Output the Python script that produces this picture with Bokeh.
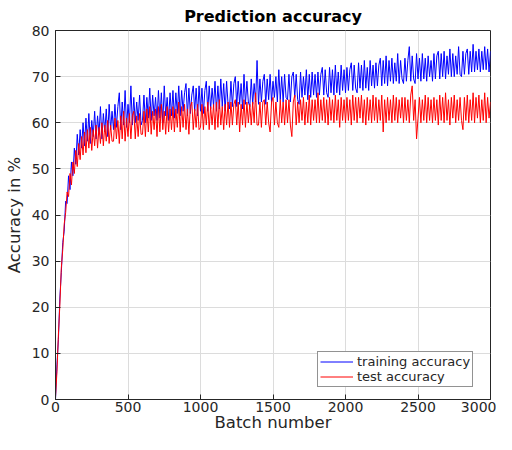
from bokeh.plotting import figure
from bokeh.models import Range1d, FixedTicker, Legend, LegendItem
from bokeh.embed import file_html
from bokeh.resources import INLINE

batch = list(range(0, 3001, 10))

train_acc = [
    0.0, 7.5, 13.0, 22.0, 27.5, 34.0, 36.5, 43.0, 42.5, 48.5, 45.5, 51.5, 48.5, 54.5, 51.0, 57.5, 53.0, 58.5, 54.5, 60.0,
    55.0, 61.0, 56.0, 62.0, 55.5, 60.5, 57.0, 62.5, 56.5, 61.5, 57.5, 63.5, 56.5, 62.0, 58.0, 63.0, 57.0, 64.0, 58.5, 62.5,
    58.5, 64.0, 59.0, 63.5, 66.5, 58.5, 64.5, 59.5, 67.0, 59.0, 64.0, 60.0, 68.0, 59.5, 65.5, 60.0, 64.5, 60.5, 66.0, 59.5,
    60.5, 66.0, 60.0, 65.5, 61.0, 67.5, 60.5, 66.0, 61.5, 65.5, 60.5, 67.0, 61.0, 66.5, 60.0, 68.0, 61.5, 65.5, 60.5, 66.5,
    61.5, 67.0, 61.0, 66.5, 62.0, 68.0, 61.5, 67.0, 62.5, 66.5, 68.5, 61.5, 67.5, 62.0, 66.0, 68.0, 62.5, 67.5, 61.5, 68.0,
    62.5, 67.5, 62.0, 67.0, 69.0, 62.5, 68.0, 63.0, 67.5, 63.5, 69.0, 62.5, 68.0, 63.0, 69.5, 63.5, 68.5, 62.5, 69.0, 64.0,
    63.0, 69.0, 63.5, 68.5, 70.0, 63.5, 69.0, 64.0, 68.5, 63.0, 70.5, 64.0, 69.0, 64.5, 63.5, 69.5, 64.0, 68.5, 64.5, 73.5,
    64.0, 69.5, 64.5, 69.0, 70.5, 64.0, 69.5, 65.0, 70.5, 64.5, 69.0, 65.5, 70.0, 64.5, 71.5, 65.0, 70.0, 64.5, 70.5, 65.5,
    65.0, 70.5, 64.5, 70.0, 71.0, 65.5, 70.5, 65.0, 64.0, 71.0, 65.5, 70.0, 66.0, 71.5, 65.0, 70.5, 65.5, 71.0, 66.0, 70.5,
    65.5, 71.0, 66.0, 70.5, 72.0, 66.0, 71.5, 66.5, 65.5, 72.0, 66.5, 71.5, 66.0, 72.5, 66.5, 71.0, 66.0, 72.5, 67.0, 71.5,
    66.5, 72.0, 67.0, 71.5, 73.0, 67.0, 72.5, 67.5, 66.5, 73.0, 67.5, 72.5, 67.0, 73.5, 67.5, 72.0, 67.0, 73.5, 68.0, 72.5,
    67.5, 73.0, 68.0, 72.5, 74.0, 68.0, 73.5, 68.5, 74.5, 68.0, 73.5, 69.0, 74.0, 68.5, 73.0, 69.0, 75.0, 68.5, 73.5, 69.5,
    68.5, 74.0, 69.0, 73.5, 76.5, 69.0, 74.5, 69.5, 68.5, 75.0, 69.5, 74.0, 69.0, 75.0, 69.5, 74.0, 69.0, 74.5, 70.0, 73.5,
    69.0, 75.0, 69.5, 74.5, 75.5, 69.5, 75.0, 70.0, 75.5, 69.5, 74.5, 70.5, 76.0, 70.0, 75.0, 70.0, 74.5, 70.5, 76.5, 70.5,
    70.0, 75.5, 70.5, 75.0, 76.0, 70.5, 75.5, 71.0, 77.0, 71.0, 75.5, 71.5, 76.0, 71.0, 75.5, 71.5, 76.5, 71.5, 76.0, 71.0, 75.5,
]

test_acc = [
    0.5, 6.0, 14.0, 20.5, 28.5, 32.5, 38.0, 40.5, 45.0, 44.0, 49.0, 46.5, 51.5, 49.0, 54.0, 50.5, 55.5, 52.0, 57.0, 53.0,
    58.0, 53.5, 58.5, 54.5, 59.0, 54.0, 58.5, 55.0, 59.5, 54.5, 59.0, 55.5, 60.0, 55.0, 59.5, 56.0, 60.5, 55.5, 59.5, 56.0,
    56.0, 61.0, 56.5, 60.5, 55.5, 61.5, 56.5, 62.5, 56.0, 61.0, 57.0, 62.0, 56.5, 61.5, 62.5, 56.5, 61.5, 57.0, 62.0, 57.5,
    57.5, 62.5, 57.0, 63.0, 58.0, 63.5, 57.5, 62.5, 58.5, 63.0, 57.0, 63.5, 58.0, 64.0, 58.5, 62.5, 57.5, 63.5, 58.0, 63.0,
    58.5, 63.5, 58.0, 63.0, 59.0, 64.5, 58.0, 63.5, 59.0, 64.0, 58.5, 63.0, 57.5, 63.5, 64.5, 58.5, 63.0, 59.0, 64.0, 58.5,
    59.0, 64.0, 58.5, 63.5, 59.5, 64.5, 58.5, 63.5, 59.5, 64.0, 58.5, 64.5, 59.0, 65.0, 59.5, 63.5, 58.5, 64.0, 59.5, 64.5,
    59.0, 64.5, 59.5, 64.0, 65.0, 59.5, 64.5, 58.0, 64.0, 59.5, 65.0, 59.0, 64.5, 60.0, 64.0, 59.5, 64.5, 60.0, 66.5, 59.5,
    59.5, 64.5, 59.0, 64.5, 65.0, 59.5, 64.5, 60.0, 58.0, 64.5, 65.5, 59.5, 64.5, 60.0, 59.0, 65.0, 60.0, 64.5, 59.5, 65.0,
    60.0, 65.0, 59.5, 57.0, 64.5, 66.0, 59.5, 64.5, 60.0, 65.0, 60.5, 65.5, 59.5, 64.5, 60.0, 66.0, 59.5, 65.0, 60.5, 65.0,
    60.0, 66.5, 60.0, 65.0, 60.5, 65.5, 60.0, 65.0, 59.5, 65.5, 60.5, 65.0, 60.0, 66.0, 60.5, 65.0, 59.0, 65.5, 60.5, 65.0,
    60.0, 65.5, 60.5, 65.0, 59.5, 66.0, 60.5, 65.5, 60.0, 65.5, 61.0, 66.0, 60.0, 65.0, 59.5, 65.5, 60.5, 65.0, 60.0, 66.0,
    60.5, 65.5, 60.0, 65.0, 60.5, 66.0, 58.0, 65.0, 60.0, 65.5, 60.5, 65.0, 60.0, 66.0, 60.5, 65.5, 60.0, 65.0, 61.0, 65.5,
    60.0, 65.5, 60.5, 65.0, 60.0, 66.0, 68.0, 60.5, 65.0, 56.5, 61.0, 65.5, 60.0, 65.0, 60.5, 66.0, 60.0, 65.5, 60.5, 65.0,
    60.0, 65.5, 60.5, 65.0, 59.5, 66.0, 60.5, 65.5, 60.0, 66.5, 60.5, 65.0, 59.5, 65.5, 61.0, 66.0, 60.0, 65.0, 60.5, 65.5,
    60.5, 58.5, 65.5, 60.5, 66.0, 60.0, 65.0, 60.5, 66.5, 60.0, 65.5, 61.0, 66.0, 60.0, 65.0, 60.5, 66.5, 60.0, 65.5, 61.0, 64.5,
]

x_ticks = [0, 500, 1000, 1500, 2000, 2500, 3000]
y_ticks = [0, 10, 20, 30, 40, 50, 60, 70, 80]

n = min(len(batch), len(train_acc), len(test_acc))

FONT = "DejaVu Sans"
TXT = "#262626"

p = figure(width=496, height=434, output_backend="svg", toolbar_location=None,
           x_range=Range1d(0, 3000), y_range=Range1d(0, 80),
           min_border_left=55, min_border_right=6, min_border_top=30, min_border_bottom=30)

p.title.text = "Prediction accuracy"
p.title.align = "center"
p.title.text_font = FONT
p.title.text_font_size = "16px"
p.title.text_font_style = "bold"
p.title.text_color = "#000000"
p.title.offset = 0
p.title.standoff = 9

r1 = p.line(batch[:n], train_acc[:n], line_color="#0000ff", line_width=1)
r2 = p.line(batch[:n], test_acc[:n], line_color="#ff0000", line_width=1)

for ax in (p.xaxis[0], p.yaxis[0]):
    ax.axis_line_color = TXT
    ax.major_tick_line_color = TXT
    ax.major_tick_in = 5
    ax.major_tick_out = 0
    ax.minor_tick_line_color = None
    ax.major_label_text_font = FONT
    ax.major_label_text_font_size = "14px"
    ax.major_label_text_color = TXT
    ax.axis_label_text_font = FONT
    ax.axis_label_text_font_size = "16.5px"
    ax.axis_label_text_font_style = "normal"
    ax.axis_label_text_color = TXT

p.xaxis[0].ticker = FixedTicker(ticks=x_ticks)
p.yaxis[0].ticker = FixedTicker(ticks=y_ticks)
p.xaxis[0].axis_label = "Batch number"
p.yaxis[0].axis_label = "Accuracy in %"
p.xaxis[0].axis_label_standoff = -2
p.yaxis[0].axis_label_standoff = 5
p.xaxis[0].major_label_standoff = 2
p.yaxis[0].major_label_standoff = 6

p.xgrid.ticker = FixedTicker(ticks=x_ticks)
p.ygrid.ticker = FixedTicker(ticks=y_ticks)
p.grid.grid_line_color = "#dcdcdc"
p.grid.grid_line_width = 1
p.outline_line_color = TXT
p.background_fill_color = "white"
p.border_fill_color = "white"

legend = Legend(items=[LegendItem(label="training accuracy", renderers=[r1]),
                       LegendItem(label="test accuracy", renderers=[r2])],
                location=(262, 12))
legend.label_text_font = FONT
legend.label_text_font_size = "13px"
legend.label_text_line_height = 1.0
legend.label_text_color = TXT
legend.border_line_color = TXT
legend.border_line_width = 1
legend.background_fill_alpha = 1
legend.glyph_width = 33
legend.glyph_height = 13
legend.label_height = 13
legend.spacing = 0
legend.padding = 2
legend.margin = 0
legend.label_standoff = 4
p.add_layout(legend)

open("out.html", "w").write(file_html(p, INLINE))
